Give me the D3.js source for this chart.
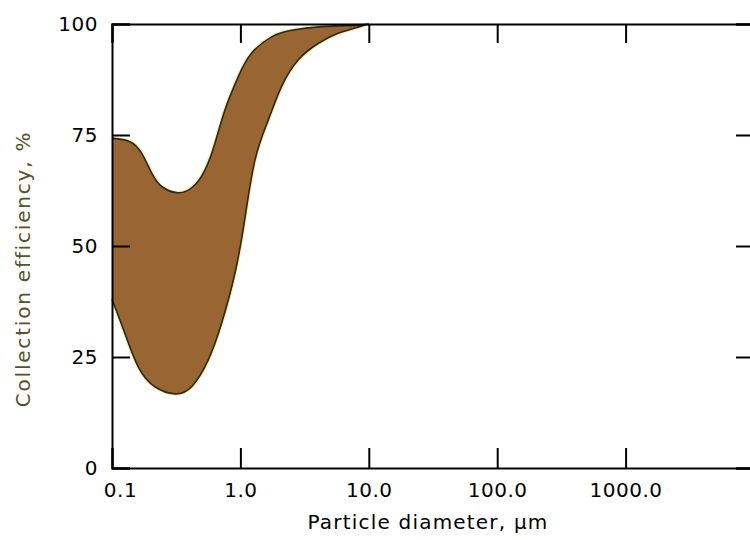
<!DOCTYPE html>
<html>
<head>
<meta charset="utf-8">
<script src="https://cdn.jsdelivr.net/npm/d3@7"></script>
<style>
  body { margin: 0; background: #fff; }
  text { font-family: "DejaVu Sans", sans-serif; }
</style>
</head>
<body>
<div id="chart"></div>
<script>
// Upper and lower bounds of the collection efficiency band
const upperDiam = [0.1, 0.138, 0.17, 0.204, 0.244, 0.328, 0.429, 0.529, 0.633, 0.757, 0.961, 1.22, 1.75, 2.5, 4.29, 7.78, 10];
const upperEff  = [74.3, 73.5, 70.9, 66.4, 63.4, 62.0, 63.4, 67.1, 73.1, 80.6, 88.1, 93.4, 97.1, 98.6, 99.4, 99.7, 100];
const lowerDiam = [0.1, 0.126, 0.16, 0.216, 0.309, 0.417, 0.561, 0.714, 0.906, 1.08, 1.3, 1.65, 2.09, 2.82, 4.03, 5.77, 8.26, 10];
const lowerEff  = [38.0, 30.3, 22.8, 18.3, 16.7, 18.3, 24.3, 32.6, 43.8, 55.9, 69.4, 78.4, 85.9, 91.9, 95.6, 97.9, 99.3, 100];

const xTicks = [0.1, 1, 10, 100, 1000];
const xTickLabels = ["0.1", "1.0", "10.0", "100.0", "1000.0"];
const yTicks = [0, 25, 50, 75, 100];

const width = 750, height = 540;
const margin = {top : 24, right : -4, bottom : 72, left : 112};
const w = width - margin.left - margin.right;
const h = height - margin.top - margin.bottom;

const svg = d3.select("#chart").append("svg")
                .attr("width", width)
                .attr("height", height)
                .append("g")
                .attr("transform", `translate(${margin.left},${margin.top})`);

const x = d3.scaleLog().domain([ 0.1, 10000 ]).range([ 0, w ]);
const y = d3.scaleLinear().domain([ 0, 100 ]).range([ h, 0 ]);

const upper = upperDiam.map((d, i) => [x(d), Math.max(y(upperEff[i]), 0)]);
const lower = lowerDiam.map((d, i) => [x(d), y(lowerEff[i])]).reverse();

const line = d3.line().curve(d3.curveNatural);
const upPath = line(upper);
const lowPath = line(lower);
const bandPath = upPath + "L" + lowPath.slice(1) + "Z";
const outline = upPath + "M" + lowPath.slice(1);

// light halo round the outline, then the band itself
svg.append("path")
    .attr("d", outline)
    .attr("fill", "none")
    .attr("stroke", "#f4efc4")
    .attr("stroke-width", 4);

svg.append("path")
    .attr("d", bandPath)
    .attr("fill", "#986533")
    .attr("stroke", "none");

svg.append("path")
    .attr("d", outline)
    .attr("fill", "none")
    .attr("stroke", "#2b2a12")
    .attr("stroke-width", 1.6);

// axes, ticks pointing inwards
const fontSize = "20px";
const gx = svg.append("g")
               .attr("transform", `translate(0,${h})`)
               .call(d3.axisBottom(x).tickValues(xTicks).tickSize(-20).tickPadding(15)
                         .tickFormat((d, i) => xTickLabels[i]));
gx.selectAll("text").style("font-size", fontSize).style("letter-spacing", "0.5px").attr("fill", "#000");
gx.select("g.tick text").attr("dx", 8);

const gxTop = svg.append("g")
                  .call(d3.axisTop(x).tickValues(xTicks).tickSize(-19).tickFormat(""));

const gy = svg.append("g")
               .call(d3.axisLeft(y).tickValues(yTicks).tickSize(-18).tickPadding(14));
gy.selectAll("text").style("font-size", fontSize).style("letter-spacing", "0.5px").attr("fill", "#000");

const gyRight = svg.append("g")
                    .attr("transform", `translate(${w},0)`)
                    .call(d3.axisRight(y).tickValues(yTicks).tickSize(-18).tickFormat(""));

[gx, gxTop, gy, gyRight].forEach(g => {
  g.select(".domain").attr("stroke", "#000").attr("stroke-width", 2);
  g.selectAll(".tick line").attr("stroke", "#000").attr("stroke-width", 2);
});

// axis titles
svg.append("text")
    .attr("x", 316)
    .attr("y", h + 61)
    .attr("text-anchor", "middle")
    .style("font-size", fontSize)
    .style("letter-spacing", "1.2px")
    .attr("fill", "#000")
    .text("Particle diameter, \u00b5m");

svg.append("text")
    .attr("transform", `translate(${-112 + 30},${269 - margin.top}) rotate(-90)`)
    .attr("text-anchor", "middle")
    .style("font-size", fontSize)
    .style("letter-spacing", "1.8px")
    .attr("fill", "#545428")
    .text("Collection efficiency, %");
</script>
</body>
</html>
